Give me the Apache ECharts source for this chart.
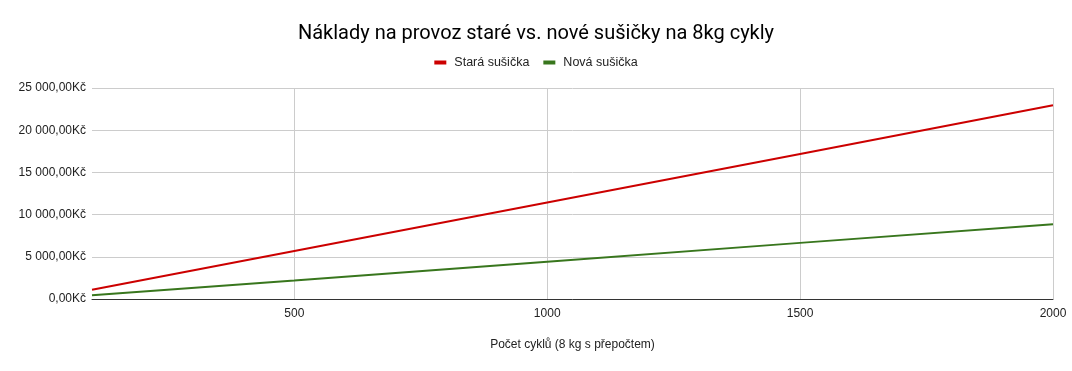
<!DOCTYPE html>
<html><head><meta charset="utf-8">
<script src="https://cdn.jsdelivr.net/npm/echarts@6/dist/echarts.min.js"></script>
<style>html,body{margin:0;padding:0;background:#fff}#c{width:1072px;height:371px}</style>
</head><body><div id="c"></div>
<script>
const cycles = [100, 500, 1000, 1500, 2000];
const staraValues = [1100, 5680, 11430, 17170, 22950];
const novaValues = [440, 2200, 4420, 6650, 8850];
const xTicks = [500, 1000, 1500, 2000];
const seriesNames = ['Stará sušička', 'Nová sušička'];

function fmtKc(v) {
  const s = Math.round(v).toString().replace(/\B(?=(\d{3})+(?!\d))/g, ' ');
  return s + ',00Kč';
}
const chart = echarts.init(document.getElementById('c'));
chart.setOption({
  animation: false,
  title: { text: 'Náklady na provoz staré vs. nové sušičky na 8kg cykly', left: 'center', top: 19,
    textStyle: { fontFamily: 'Roboto', fontSize: 20, fontWeight: 'normal', color: '#000' } },
  legend: { top: 51, left: 'center', itemWidth: 12, itemHeight: 4, itemGap: 14,
    icon: 'rect', textStyle: { fontFamily: 'Liberation Sans', fontSize: 12.5, color: '#222', padding: [0, 0, 0, 3] },
    data: seriesNames },
  grid: { left: 92, right: 19, top: 88, bottom: 72 },
  xAxis: { type: 'value', min: 100, max: 2000,
    name: 'Počet cyklů (8 kg s přepočtem)', nameLocation: 'middle', nameGap: 40,
    nameTextStyle: { fontFamily: 'Liberation Sans', fontSize: 12, color: '#222' },
    axisLine: { show: true, lineStyle: { color: '#333', width: 1 } },
    axisTick: { show: false, customValues: xTicks },
    axisLabel: { customValues: xTicks, formatter: v => String(v), fontFamily: 'Liberation Sans', fontSize: 12, color: '#222', margin: 9 },
    splitLine: { show: true, lineStyle: { color: '#ccc' } } },
  yAxis: { type: 'value', min: 0, max: 25000, interval: 5000,
    axisLine: { show: false }, axisTick: { show: false },
    axisLabel: { formatter: fmtKc, fontFamily: 'Liberation Sans', fontSize: 12, color: '#222', margin: 6 },
    splitLine: { lineStyle: { color: '#ccc' } } },
  series: [
    { name: seriesNames[0], type: 'line', showSymbol: false, color: '#cc0000',
      lineStyle: { width: 2 }, data: cycles.map((c, i) => [c, staraValues[i]]) },
    { name: seriesNames[1], type: 'line', showSymbol: false, color: '#38761d',
      lineStyle: { width: 2 }, data: cycles.map((c, i) => [c, novaValues[i]]) }
  ]
});
</script></body></html>
